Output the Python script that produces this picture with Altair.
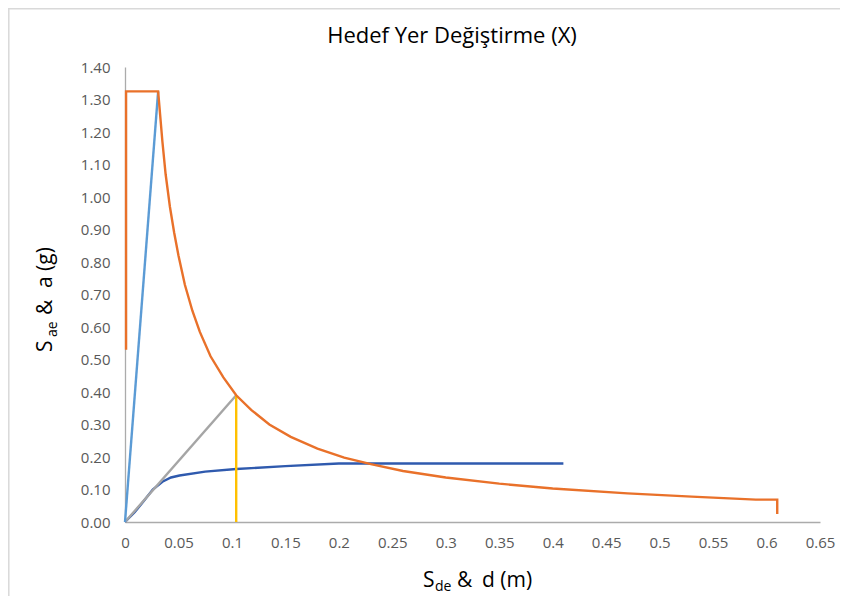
import altair as alt
import pandas as pd

# ---- data ----
demand_x = [0.001, 0.001, 0.031, 0.035, 0.038, 0.042, 0.046, 0.050, 0.056, 0.063, 0.070,
            0.080, 0.092, 0.104, 0.118, 0.135, 0.155, 0.180, 0.205, 0.230, 0.260, 0.300,
            0.350, 0.400, 0.470, 0.530, 0.590, 0.610, 0.610]
demand_y = [0.53, 1.325, 1.325, 1.17, 1.07, 0.97, 0.89, 0.82, 0.73, 0.65, 0.585,
            0.51, 0.445, 0.39, 0.345, 0.30, 0.262, 0.226, 0.198, 0.178, 0.157, 0.137,
            0.118, 0.103, 0.088, 0.078, 0.069, 0.069, 0.025]

initial_x = [0.0, 0.031]
initial_y = [0.0, 1.325]

capacity_x = [0.0, 0.009, 0.017, 0.026, 0.035, 0.043, 0.051, 0.075, 0.104, 0.150, 0.200, 0.410]
capacity_y = [0.0, 0.030, 0.062, 0.100, 0.124, 0.137, 0.143, 0.155, 0.163, 0.172, 0.180, 0.180]

secant_x = [0.0, 0.104]
secant_y = [0.0, 0.39]

target_x = [0.104, 0.104]
target_y = [0.0, 0.39]

x_ticks = [round(i * 0.05, 2) for i in range(14)]
y_ticks = [round(i * 0.1, 1) for i in range(15)]

W, H = 695, 455
FONT = "Open Sans"


def df(xs, ys):
    return pd.DataFrame({"x": xs, "y": ys, "i": list(range(len(xs)))})


xscale = alt.Scale(domain=[0, 0.65], nice=False, zero=False)
yscale = alt.Scale(domain=[0, 1.4], nice=False)

xaxis = alt.Axis(values=x_ticks, format="~g", title=None, grid=False, ticks=False,
                 labelPadding=13, labelFont=FONT, labelFontSize=15, labelColor="#595959",
                 domainColor="#ABABAB", domainWidth=1.3, labelFlush=False)
yaxis = alt.Axis(values=y_ticks, format=".2f", title=None, grid=False, ticks=False,
                 labelPadding=15, labelFont=FONT, labelFontSize=15, labelColor="#595959",
                 domainColor="#ABABAB", domainWidth=1.3, labelFlush=False)


def line(data, color, width=2.4):
    return alt.Chart(data).mark_line(color=color, strokeWidth=width, clip=False).encode(
        x=alt.X("x:Q", scale=xscale, axis=xaxis),
        y=alt.Y("y:Q", scale=yscale, axis=yaxis),
        order="i:Q",
    )


layers = [
    line(df(capacity_x, capacity_y), "#2F5AAE"),
    line(df(secant_x, secant_y), "#A5A5A5"),
    line(df(target_x, target_y), "#FFC000"),
    line(df(initial_x, initial_y), "#5B9BD5"),
    line(df(demand_x, demand_y), "#E9712A"),
]


def txt(s, x, y, size, angle=0, color="#000000"):
    kw = dict(align="left", baseline="alphabetic", font=FONT, fontSize=size, color=color)
    if angle:
        kw["angle"] = angle
    return alt.Chart(pd.DataFrame({"t": [s]})).mark_text(**kw).encode(
        x=alt.value(x), y=alt.value(y), text="t:N")


# title
title = alt.Chart(pd.DataFrame({"t": ["Hedef Yer Değiştirme (X)"]})).mark_text(
    align="center", baseline="alphabetic", font=FONT, fontSize=22, color="#000000"
).encode(x=alt.value(327), y=alt.value(-24), text="t:N")

# x axis title: S_de &  d (m)
xt = [
    txt("S", 298, 520, 21),
    txt("de", 310, 524, 14),
    txt("&", 332, 520, 21),
    txt("d (m)", 357, 520, 21),
]
# y axis title: S_ae &  a (g)
yt = [
    txt("S", -73, 285, 21, angle=270),
    txt("ae", -68, 270, 14, angle=270),
    txt("&", -73, 248, 21, angle=270),
    txt("a (g)", -73, 221, 21, angle=270),
]

one = pd.DataFrame({"a": [0]})
border_left = alt.Chart(one).mark_rule(color="#D9D9D9", strokeWidth=1.5).encode(
    x=alt.value(-116.2), y=alt.value(-59), y2=alt.value(H + 74))
border_top = alt.Chart(one).mark_rule(color="#D9D9D9", strokeWidth=1.5).encode(
    y=alt.value(-58.2), x=alt.value(-117), x2=alt.value(W + 20))

chart = alt.layer(*layers, title, *xt, *yt, border_left, border_top).properties(
    width=W, height=H,
    autosize=alt.AutoSizeParams(type="none"),
    padding={"left": 117, "top": 59, "right": 20, "bottom": 74},
    background="white",
).configure_view(stroke=None)

chart.save("out.html", embed_options={"renderer": "svg", "actions": False})
